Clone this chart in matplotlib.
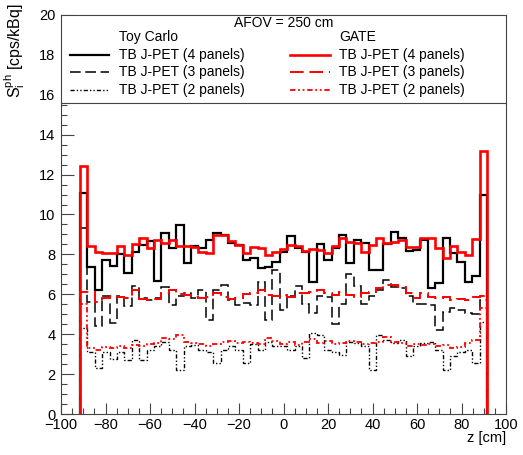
import numpy as np
import matplotlib
matplotlib.use("Agg")
import matplotlib.pyplot as plt
from matplotlib.patches import Rectangle
from matplotlib.lines import Line2D
from matplotlib.ticker import MultipleLocator

plt.rcParams['font.family'] = ['Liberation Sans', 'DejaVu Sans']
plt.rcParams['mathtext.default'] = 'regular'

# binning of the sensitivity profiles (cm)
z_min, z_max, n_bins = -91.5, 91.5, 55

# Toy Carlo
toy_4 = [11.1, 7.35, 6.2, 7.7, 7.4, 8.0, 7.05, 8.1, 8.45, 8.65, 6.65, 9.05, 8.3, 9.45,
         7.55, 8.4, 8.3, 8.7, 9.05, 8.95, 8.55, 8.45, 7.7, 7.8, 7.3, 7.35, 7.6, 8.1,
         8.9, 8.3, 8.1, 6.6, 8.5, 7.7, 8.3, 8.95, 7.55, 8.7, 8.55, 7.2, 7.2, 8.5,
         9.1, 8.8, 8.15, 8.2, 8.7, 6.3, 6.55, 8.8, 8.05, 7.6, 6.6, 6.9, 11.0]
toy_3 = [9.3, 5.6, 4.4, 5.9, 4.55, 5.9, 5.4, 6.4, 5.8, 5.7, 5.8, 6.35, 5.45, 5.9,
         6.05, 5.8, 6.2, 4.7, 6.2, 6.45, 5.7, 5.45, 5.55, 5.45, 6.6, 4.7, 7.2, 5.2,
         5.9, 6.4, 5.5, 5.05, 5.9, 5.85, 4.5, 5.5, 7.0, 6.4, 5.5, 5.9, 6.2, 6.7,
         6.35, 6.3, 5.9, 5.5, 5.5, 5.45, 4.2, 5.1, 5.3, 5.2, 5.05, 5.0, 5.7]
toy_2 = [4.3, 3.1, 2.3, 3.1, 2.75, 3.1, 2.7, 3.7, 2.7, 3.2, 3.4, 3.6, 3.2, 2.2,
         3.4, 3.45, 3.2, 3.1, 2.55, 3.2, 3.4, 3.2, 2.55, 3.5, 3.2, 3.6, 3.4, 3.4,
         3.2, 3.4, 2.8, 4.05, 3.95, 3.2, 3.1, 2.95, 3.6, 3.55, 3.4, 2.2, 3.95, 3.7,
         3.55, 3.7, 2.9, 3.4, 3.55, 3.6, 3.2, 2.2, 2.9, 3.1, 3.2, 2.55, 4.6]

# GATE
gate_4 = [12.45, 8.4, 8.1, 8.05, 8.05, 8.4, 7.95, 8.5, 8.8, 8.3, 8.7, 8.55, 8.7, 8.4,
          8.4, 8.35, 8.1, 8.05, 8.95, 8.95, 8.65, 8.45, 8.05, 8.35, 8.3, 7.95, 8.1, 8.25,
          8.45, 8.4, 8.15, 8.25, 8.2, 8.05, 8.4, 8.8, 8.6, 8.55, 8.1, 8.45, 8.8, 8.55,
          8.6, 8.7, 8.35, 8.35, 8.8, 8.8, 8.3, 7.8, 8.4, 8.1, 7.95, 8.75, 13.2]
gate_3 = [6.1, 6.13, 5.63, 5.8, 5.93, 5.88, 5.8, 6.22, 5.75, 5.71, 5.76, 6.05, 6.22, 6.0,
          5.96, 5.88, 5.8, 5.85, 6.05, 5.88, 5.76, 5.8, 6.0, 6.05, 6.22, 5.96, 5.92, 5.96,
          5.88, 6.05, 6.05, 6.13, 6.22, 6.05, 5.96, 6.13, 5.96, 5.85, 6.05, 6.13, 6.3, 6.46,
          6.46, 6.38, 6.05, 5.8, 6.05, 5.88, 5.8, 5.88, 5.71, 5.75, 5.71, 5.88, 5.9]
gate_2 = [5.5, 3.3, 3.2, 3.35, 3.3, 3.4, 3.3, 3.45, 3.4, 3.5, 3.55, 3.8, 3.75, 3.95,
          3.6, 3.55, 3.5, 3.4, 3.5, 3.6, 3.65, 3.55, 3.6, 3.55, 3.5, 3.8, 3.65, 3.5,
          3.6, 3.45, 3.6, 3.75, 3.55, 3.65, 3.5, 3.55, 3.65, 3.6, 3.5, 3.55, 3.6, 3.85,
          3.6, 3.55, 3.4, 3.5, 3.45, 3.5, 3.4, 3.45, 3.3, 3.35, 3.55, 3.7, 5.3]

labels = ["TB J-PET (4 panels)", "TB J-PET (3 panels)", "TB J-PET (2 panels)"]

red = '#ff0000'
styles = [('-', 1.6), ((0, (7, 3)), 1.1), ((0, (3, 1.5, 1, 1.5, 1, 1.5)), 1.0)]

edges = np.linspace(z_min, z_max, n_bins + 1)

W, H = 523, 455
fig = plt.figure(figsize=(W / 100, H / 100), dpi=100)
ax = fig.add_axes([61 / W, 1 - 414 / H, 445 / W, 399 / H])

for vals, (ls, lw) in zip([toy_4, toy_3, toy_2], styles):
    ax.stairs(vals, edges, baseline=0, color='black', lw=lw, linestyle=ls, zorder=3)
for vals, (ls, lw) in reversed(list(zip([gate_4, gate_3, gate_2], styles))):
    ax.stairs(vals, edges, baseline=0, color=red, lw=lw + 0.3, linestyle=ls, zorder=4)

ax.set_xlim(-100, 100)
ax.set_ylim(0, 20)
ax.xaxis.set_major_locator(MultipleLocator(20))
ax.xaxis.set_minor_locator(MultipleLocator(5))
ax.yaxis.set_major_locator(MultipleLocator(2))
ax.yaxis.set_minor_locator(MultipleLocator(0.5))
ax.tick_params(which='both', direction='in', top=False, right=False, labelsize=10.5,
               width=0.8, color='#444444')
ax.tick_params(axis='x', which='major', length=8, pad=3)
ax.tick_params(axis='x', which='minor', length=4)
ax.tick_params(axis='y', which='major', length=9, pad=4)
ax.tick_params(axis='y', which='minor', length=4.5)
for sp in ax.spines.values():
    sp.set_linewidth(0.8)
    sp.set_color('#444444')

# legend box (ROOT style, spanning the frame width)
y_sep = 15.6
ax.add_patch(Rectangle((-100, y_sep), 200, 20 - y_sep, facecolor='white',
                       edgecolor='#444444', lw=0.8, zorder=6))
ax.text(0, 19.6, "AFOV = 250 cm", ha='center', va='center', fontsize=10, zorder=7)
col_x = [(-96, -78.5, -74), (3, 21, 25)]
heads = ["Toy Carlo", "GATE"]
row_y = [18.0, 17.15, 16.25]
for (x0, x1, xt), head, col in zip(col_x, heads, ['black', red]):
    ax.text(xt, 18.9, head, ha='left', va='center', fontsize=10, zorder=7)
    for y, lab, (ls, lw) in zip(row_y, labels, styles):
        ax.add_line(Line2D([x0, x1], [y, y], color=col, lw=lw + (0.3 if col == red else 0),
                           linestyle=ls, zorder=7))
        ax.text(xt, y, lab, ha='left', va='center', fontsize=10, zorder=7)

fig.text(506 / W, 1 - 438 / H, "z [cm]", ha='right', va='center', fontsize=10.5)
fig.text(15 / W, 1 - 3 / H, r"$S_{i}^{ph}$ [cps/kBq]", rotation=90, ha='center',
         va='top', fontsize=11.5)

fig.savefig("out.png", dpi=100)
